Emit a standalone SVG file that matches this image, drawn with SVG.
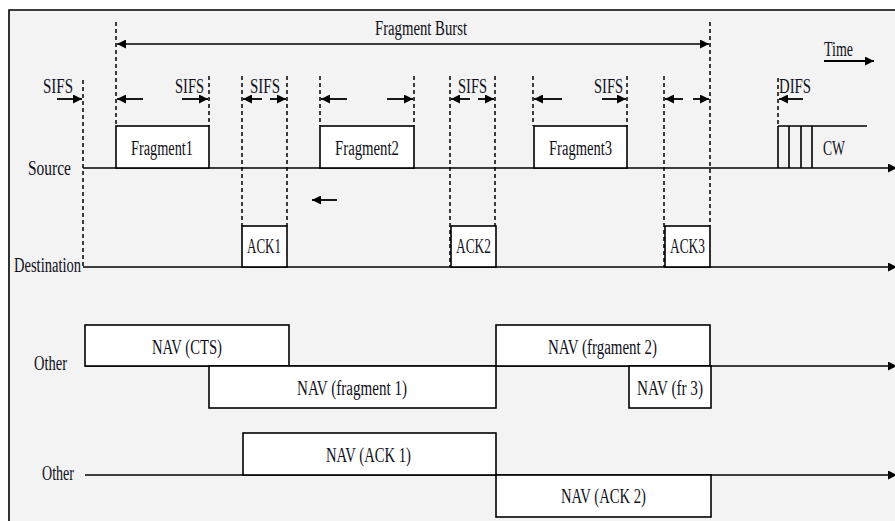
<svg xmlns="http://www.w3.org/2000/svg" width="895" height="521" viewBox="0 0 895 521">
<style>
.t{font-family:"Liberation Serif","Times New Roman",serif;font-size:20px;fill:#101020;}
.box{fill:#ffffff;stroke:#000;stroke-width:1.6;}
.ln{stroke:#000;stroke-width:1.6;fill:none;}
.dash{stroke:#000;stroke-width:1.5;stroke-dasharray:4 3;fill:none;}
.arr{stroke:#000;stroke-width:1.8;fill:none;marker-end:url(#ah);}
</style>
<defs>
<marker id="ah" viewBox="0 0 10 10" refX="10" refY="5" markerWidth="10" markerHeight="9" markerUnits="userSpaceOnUse" orient="auto-start-reverse">
<path d="M0,0 L10,5 L0,10 z" fill="#000"/>
</marker>
</defs>
<rect x="0" y="0" width="895" height="521" fill="#ffffff"/>
<rect x="9" y="10" width="890" height="515" fill="#f3f3f3"/>
<path d="M9,521 V10 H895" class="ln"/>

<g id="connectors">
<line x1="83" y1="168" x2="897" y2="168" class="ln" marker-end="url(#ah)"/>
<line x1="83" y1="267" x2="897" y2="267" class="ln" marker-end="url(#ah)"/>
<line x1="85" y1="366" x2="897" y2="366" class="ln" marker-end="url(#ah)"/>
<line x1="85" y1="475" x2="897" y2="475" class="ln" marker-end="url(#ah)"/>
<line x1="83" y1="80" x2="83" y2="267" class="dash"/>
<line x1="116" y1="22" x2="116" y2="126" class="dash"/>
<line x1="209" y1="76" x2="209" y2="126" class="dash"/>
<line x1="242" y1="76" x2="242" y2="226" class="dash"/>
<line x1="287" y1="76" x2="287" y2="226" class="dash"/>
<line x1="320" y1="76" x2="320" y2="126" class="dash"/>
<line x1="414" y1="76" x2="414" y2="126" class="dash"/>
<line x1="450" y1="76" x2="450" y2="267" class="dash"/>
<line x1="495" y1="76" x2="495" y2="267" class="dash"/>
<line x1="533" y1="76" x2="533" y2="126" class="dash"/>
<line x1="627" y1="76" x2="627" y2="126" class="dash"/>
<line x1="664" y1="76" x2="664" y2="267" class="dash"/>
<line x1="710" y1="22" x2="710" y2="226" class="dash"/>
<line x1="778" y1="78" x2="778" y2="126" class="dash"/>
<line x1="117" y1="44" x2="709" y2="44" class="ln" marker-start="url(#ah)" marker-end="url(#ah)"/>
<line x1="824" y1="61" x2="874" y2="61" class="arr"/>
<line x1="57" y1="99" x2="82" y2="99" class="arr"/>
<line x1="143" y1="99" x2="117" y2="99" class="arr"/>
<line x1="182" y1="99" x2="208" y2="99" class="arr"/>
<line x1="262" y1="99" x2="243" y2="99" class="arr"/>
<line x1="270" y1="99" x2="286" y2="99" class="arr"/>
<line x1="347" y1="99" x2="321" y2="99" class="arr"/>
<line x1="387" y1="99" x2="413" y2="99" class="arr"/>
<line x1="470" y1="99" x2="451" y2="99" class="arr"/>
<line x1="478" y1="99" x2="494" y2="99" class="arr"/>
<line x1="562" y1="99" x2="534" y2="99" class="arr"/>
<line x1="602" y1="99" x2="626" y2="99" class="arr"/>
<line x1="683" y1="99" x2="665" y2="99" class="arr"/>
<line x1="693" y1="99" x2="709" y2="99" class="arr"/>
<line x1="803" y1="99" x2="779" y2="99" class="arr"/>
<line x1="337" y1="200" x2="312" y2="200" class="arr"/>
</g>

<g id="labels">
<text class="t" x="375" y="35" textLength="92" lengthAdjust="spacingAndGlyphs">Fragment Burst</text>
<text class="t" x="824" y="56" textLength="29" lengthAdjust="spacingAndGlyphs">Time</text>
<text class="t" x="43" y="93" textLength="30" lengthAdjust="spacingAndGlyphs">SIFS</text>
<text class="t" x="175" y="93" textLength="29" lengthAdjust="spacingAndGlyphs">SIFS</text>
<text class="t" x="250" y="93" textLength="30" lengthAdjust="spacingAndGlyphs">SIFS</text>
<text class="t" x="458" y="93" textLength="29" lengthAdjust="spacingAndGlyphs">SIFS</text>
<text class="t" x="594" y="93" textLength="29" lengthAdjust="spacingAndGlyphs">SIFS</text>
<text class="t" x="779" y="93" textLength="32" lengthAdjust="spacingAndGlyphs">DIFS</text>
<text class="t" x="28" y="175" textLength="43" lengthAdjust="spacingAndGlyphs">Source</text>
<text class="t" x="14" y="272" textLength="67" lengthAdjust="spacingAndGlyphs">Destination</text>
<text class="t" x="34" y="370" textLength="33" lengthAdjust="spacingAndGlyphs">Other</text>
<text class="t" x="42" y="480" textLength="32" lengthAdjust="spacingAndGlyphs">Other</text>
</g>

<g id="fragment1"><rect class="box" x="116" y="126" width="93" height="42"/><text class="t" x="131" y="155" textLength="62" lengthAdjust="spacingAndGlyphs">Fragment1</text></g>
<g id="fragment2"><rect class="box" x="320" y="126" width="94" height="42"/><text class="t" x="335" y="155" textLength="64" lengthAdjust="spacingAndGlyphs">Fragment2</text></g>
<g id="fragment3"><rect class="box" x="534" y="126" width="93" height="42"/><text class="t" x="549" y="155" textLength="63" lengthAdjust="spacingAndGlyphs">Fragment3</text></g>
<g id="cw">
<path class="ln" d="M778,126 H867 M778,126 V168 M789,126 V168 M801,126 V168 M812,126 V168"/>
<text class="t" x="823" y="155" textLength="22" lengthAdjust="spacingAndGlyphs">CW</text>
</g>
<g id="ack1"><rect class="box" x="242" y="226" width="45" height="41"/><text class="t" x="247" y="253" textLength="34" lengthAdjust="spacingAndGlyphs">ACK1</text></g>
<g id="ack2"><rect class="box" x="451" y="226" width="45" height="41"/><text class="t" x="456" y="253" textLength="35" lengthAdjust="spacingAndGlyphs">ACK2</text></g>
<g id="ack3"><rect class="box" x="665" y="226" width="45" height="41"/><text class="t" x="670" y="253" textLength="35" lengthAdjust="spacingAndGlyphs">ACK3</text></g>

<g id="nav-cts"><rect class="box" x="85" y="325" width="204" height="41"/><text class="t" x="152" y="354" textLength="70" lengthAdjust="spacingAndGlyphs">NAV (CTS)</text></g>
<g id="nav-fragment1"><rect class="box" x="209" y="366" width="287" height="42"/><text class="t" x="297" y="395" textLength="110" lengthAdjust="spacingAndGlyphs">NAV (fragment 1)</text></g>
<g id="nav-fragment2"><rect class="box" x="496" y="325" width="214" height="41"/><text class="t" x="548" y="354" textLength="109" lengthAdjust="spacingAndGlyphs">NAV (frgament 2)</text></g>
<g id="nav-fr3"><rect class="box" x="629" y="366" width="82" height="42"/><text class="t" x="637" y="395" textLength="66" lengthAdjust="spacingAndGlyphs">NAV (fr 3)</text></g>
<g id="nav-ack1"><rect class="box" x="243" y="433" width="253" height="42"/><text class="t" x="326" y="462" textLength="85" lengthAdjust="spacingAndGlyphs">NAV (ACK 1)</text></g>
<g id="nav-ack2"><rect class="box" x="496" y="475" width="215" height="42"/><text class="t" x="561" y="503" textLength="85" lengthAdjust="spacingAndGlyphs">NAV (ACK 2)</text></g>
</svg>
